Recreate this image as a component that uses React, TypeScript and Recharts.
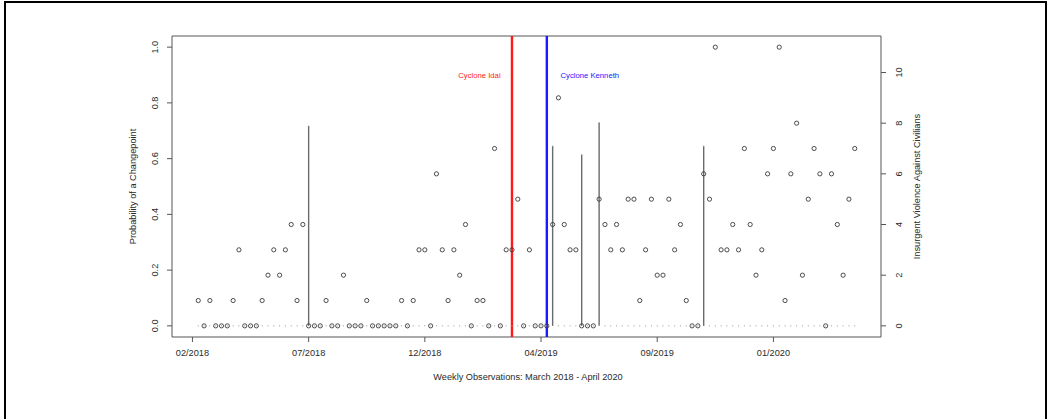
import React from 'react';
import {
    ComposedChart, Scatter, XAxis, YAxis, ReferenceLine, ReferenceArea, ReferenceDot
} from 'recharts';

// weekly observations, March 2018 - April 2020 (index 1..114)
const violence = [
    1, 0, 1, 0, 0, 0, 1, 3, 0, 0,
    0, 1, 2, 3, 2, 3, 4, 1, 4, 0,
    0, 0, 1, 0, 0, 2, 0, 0, 0, 1,
    0, 0, 0, 0, 0, 1, 0, 1, 3, 3,
    0, 6, 3, 1, 3, 2, 4, 0, 1, 1,
    0, 7, 0, 3, 3, 5, 0, 3, 0, 0,
    0, 4, 9, 4, 3, 3, 0, 0, 0, 5,
    4, 3, 4, 3, 5, 5, 1, 3, 5, 2,
    2, 5, 3, 4, 1, 0, 0, 6, 5, 11,
    3, 3, 4, 3, 7, 4, 2, 3, 6, 7,
    11, 1, 6, 8, 2, 5, 7, 6, 0, 6,
    4, 2, 5, 7,
];

const probability = [
    0, 0, 0, 0, 0, 0, 0, 0, 0, 0,
    0, 0, 0, 0, 0, 0, 0, 0, 0, 0.717,
    0, 0, 0, 0, 0, 0, 0, 0, 0, 0,
    0, 0, 0, 0, 0, 0, 0, 0, 0, 0,
    0, 0, 0, 0, 0, 0, 0, 0, 0, 0,
    0, 0, 0, 0, 0, 0, 0, 0, 0, 0,
    0, 0.645, 0, 0, 0, 0, 0.614, 0, 0, 0.729,
    0, 0, 0, 0, 0, 0, 0, 0, 0, 0,
    0, 0, 0, 0, 0, 0, 0, 0.645, 0, 0,
    0, 0, 0, 0, 0, 0, 0, 0, 0, 0,
    0, 0, 0, 0, 0, 0, 0, 0, 0, 0,
    0, 0, 0, 0,
];

const xTicks = [0, 20, 40, 60, 80, 100];
const xTickLabels = ['02/2018', '07/2018', '12/2018', '04/2019', '09/2019', '01/2020'];
const probTicks = [0, 0.2, 0.4, 0.6, 0.8, 1.0];
const violenceTicks = [0, 2, 4, 6, 8, 10];

const cyclones = [
    { name: 'Cyclone Idai', week: 55, color: '#ff1a1a', labelWeek: 49.4 },
    { name: 'Cyclone Kenneth', week: 61, color: '#1a1aff', labelWeek: 68.4 },
];

const data = violence.map((v, i) => ({ week: i + 1, violence: v, prob: probability[i] }));
const changes = data.filter(d => d.prob > 0);

const FONT = 'Liberation Sans, Arial, sans-serif';
const TXT = '#2a2a2a';
const XDOM = [-3.52, 118.52];
const PDOM = [-0.04, 1.04];
const VDOM = [-0.44, 11.44];

const Circle = (p: any) => (
    <circle cx={p.cx} cy={p.cy} r={2.1} fill="none" stroke="#3a3a3a" strokeWidth={0.9} />
);
const Dot = (p: any) => <circle cx={p.cx} cy={p.cy} r={0.6} fill="#9a9a9a" />;

const LeftTick = (p: any) => {
    const x = p.x - 6.8;
    return (
        <text x={x} y={p.y} transform={`rotate(-90 ${x} ${p.y})`} textAnchor="middle"
            fontSize={9.2} fontFamily={FONT} fill={TXT}>{p.payload.value.toFixed(1)}</text>
    );
};
const RightTick = (p: any) => {
    const x = p.x + 13.6;
    return (
        <text x={x} y={p.y} transform={`rotate(-90 ${x} ${p.y})`} textAnchor="middle"
            fontSize={9.2} fontFamily={FONT} fill={TXT}>{p.payload.value}</text>
    );
};
const BottomTick = (p: any) => (
    <text x={p.x} y={p.y + 12.3} textAnchor="middle" fontSize={9.2} fontFamily={FONT} fill={TXT}>
        {xTickLabels[xTicks.indexOf(p.payload.value)]}
    </text>
);

export default function App() {
    return (
        <div style={{ position: 'absolute', left: 0, top: 0, width: 1049, height: 419, background: '#fff', overflow: 'hidden' }}>
            <div style={{ position: 'absolute', left: 4, top: 1, width: 1039, height: 440, border: '2px solid #000' }} />
            <div style={{ position: 'absolute', left: 0, top: 0 }}>
                <ComposedChart width={1049} height={419} data={data} margin={{ top: 36, right: 108, bottom: 32, left: 112 }}>
                    <XAxis dataKey="week" type="number" domain={XDOM} ticks={xTicks} allowDataOverflow
                        axisLine={false} tickSize={5} tickLine={{ stroke: '#555' }} tick={<BottomTick />} height={50} interval={0}
                        label={{
                            content: ({ viewBox }: any) => (
                                <text x={viewBox.x + viewBox.width / 2 + 1.5} y={viewBox.y + 43.3} textAnchor="middle"
                                    fontSize={9.2} fontFamily={FONT} fill={TXT}>Weekly Observations: March 2018 - April 2020</text>
                            ),
                        }} />
                    <YAxis yAxisId="left" dataKey="prob" type="number" domain={PDOM} ticks={probTicks} allowDataOverflow
                        axisLine={false} tickSize={5} tickLine={{ stroke: '#555' }} tick={<LeftTick />} width={60} interval={0}
                        label={{
                            content: ({ viewBox }: any) => {
                                const x = viewBox.x + 24.3;
                                const y = viewBox.y + viewBox.height / 2;
                                return (
                                    <text x={x} y={y} transform={`rotate(-90 ${x} ${y})`} textAnchor="middle"
                                        fontSize={9.2} fontFamily={FONT} fill={TXT}>Probability of a Changepoint</text>
                                );
                            },
                        }} />
                    <YAxis yAxisId="right" orientation="right" dataKey="violence" type="number" domain={VDOM} ticks={violenceTicks} allowDataOverflow
                        axisLine={false} tickSize={5} tickLine={{ stroke: '#555' }} tick={<RightTick />} width={60} interval={0}
                        label={{
                            content: ({ viewBox }: any) => {
                                const x = viewBox.x + 39.3;
                                const y = viewBox.y + viewBox.height / 2;
                                return (
                                    <text x={x} y={y} transform={`rotate(-90 ${x} ${y})`} textAnchor="middle"
                                        fontSize={9.2} fontFamily={FONT} fill={TXT}>Insurgent Violence Against Civilians</text>
                                );
                            },
                        }} />

                    <ReferenceArea yAxisId="left" x1={XDOM[0]} x2={XDOM[1]} y1={PDOM[0]} y2={PDOM[1]}
                        fill="none" stroke="#555" strokeWidth={1} />

                    <Scatter yAxisId="right" dataKey="violence" data={data} shape={<Circle />} isAnimationActive={false} />
                    <Scatter yAxisId="left" dataKey="prob" data={data} shape={<Dot />} isAnimationActive={false} />

                    {changes.map(c => (
                        <ReferenceLine key={c.week} yAxisId="left"
                            segment={[{ x: c.week, y: 0 }, { x: c.week, y: c.prob }]}
                            stroke="#6a6a6a" strokeWidth={1.4} />
                    ))}

                    {cyclones.map(c => (
                        <ReferenceLine key={c.name} yAxisId="left" x={c.week} stroke={c.color} strokeWidth={2.4} />
                    ))}
                    {cyclones.map(c => (
                        <ReferenceDot key={c.name + '-l'} yAxisId="left" x={c.labelWeek} y={0.9} r={0}
                            fill="none" stroke="none"
                            label={{ value: c.name, position: 'center', fill: c.color, fontSize: 7.7, fontFamily: FONT }} />
                    ))}
                </ComposedChart>
            </div>
        </div>
    );
}
